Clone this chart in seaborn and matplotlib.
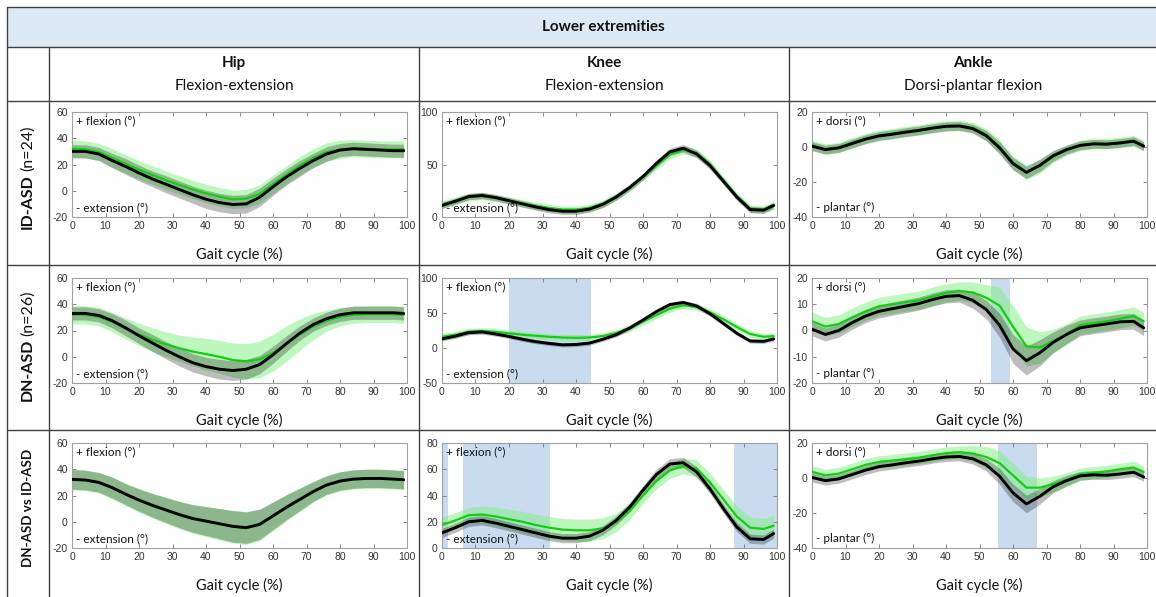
import numpy as np
import matplotlib
matplotlib.use("Agg")
import matplotlib.pyplot as plt
import seaborn as sns

# gait cycle sample points (%)
GAIT = [0, 4, 8, 12, 16, 20, 24, 28, 32, 36, 40, 44, 48, 52, 56, 60, 64, 68, 72, 76, 80, 84, 88, 92, 96, 99]

# ---- row 1: ID-ASD ----
HIP1_BLACK = [30, 30, 28, 23, 18.5, 13.5, 9, 5, 1, -3, -6.5, -9, -10.5, -10, -5, 3, 10.5, 17, 23, 28, 31, 32, 31.5, 31, 30.5, 30.5]
HIP1_BLACK_SD = [5, 5, 5, 5.5, 6, 6, 6, 6.5, 6.5, 6.5, 7, 7, 7, 7, 7, 6.5, 6, 6, 5.5, 5.5, 5, 5, 5, 5, 5, 5]
HIP1_GREEN = [32, 31.5, 29.5, 25, 20.5, 16, 12, 8, 4.5, 1, -2, -4.5, -6.5, -6, -2.5, 5, 12, 19, 25, 29.5, 31.5, 32.5, 32, 31.5, 31.5, 31.5]
HIP1_GREEN_SD = [6.5, 6.5, 6.5, 7, 7, 7, 7, 7, 7, 7, 7, 7, 7, 7, 7, 7, 7, 7, 7, 7, 7, 6.5, 6.5, 6.5, 6.5, 6.5]

KNEE1_BLACK = [11, 15, 19.5, 20.5, 18.5, 15.5, 12.5, 9.5, 7, 5.5, 5.5, 7.5, 12, 19, 28, 38.5, 51, 62, 65.5, 60, 49, 34, 19, 7, 6.5, 11]
KNEE1_BLACK_SD = [3, 3, 3, 3, 3, 3, 3, 3, 3, 3, 3, 3, 3, 3, 3, 3, 3.5, 3.5, 3.5, 3.5, 3.5, 3, 3, 3, 3, 3]
KNEE1_GREEN = [12, 15.5, 19, 20, 18, 15.5, 13, 10.5, 8.5, 7, 7, 8.5, 12.5, 19.5, 28, 38, 49, 59.5, 64, 61, 50, 35, 20, 8, 7, 11]
KNEE1_GREEN_SD = [3.5, 3.5, 3.5, 3.5, 3.5, 3.5, 3.5, 3.5, 3.5, 3.5, 3.5, 3.5, 3.5, 3.5, 3.5, 3.5, 4, 4, 4, 4, 4, 3.5, 3.5, 3.5, 3.5, 3.5]

ANK1_BLACK = [0.5, -1.5, -0.5, 2, 4.5, 6.3, 7.3, 8.5, 9.5, 10.8, 11.8, 12, 10.5, 6.5, -0.5, -9.5, -14.5, -10.5, -5, -1.5, 0.9, 1.8, 1.6, 2.3, 3.3, 0.5]
ANK1_BLACK_SD = [2.5, 2.5, 2.5, 2.5, 2.5, 2.5, 2.5, 2.5, 2.5, 2.5, 2.5, 2.5, 2.5, 3, 3.5, 3.5, 3.5, 3.5, 3, 2.5, 2.5, 2.5, 2.5, 2.5, 2.5, 2.5]
ANK1_GREEN = [0.8, -1.2, -0.3, 2.3, 4.8, 6.6, 7.6, 8.8, 9.8, 11, 12, 12.3, 11, 7, 0, -9, -14.5, -11, -5.5, -1.8, 1, 2, 1.9, 2.6, 3.6, 0.8]
ANK1_GREEN_SD = [3, 3, 3, 3, 3, 3, 3, 3, 3, 3, 3, 3, 3, 3.5, 4, 4, 4, 4, 3.5, 3, 3, 3, 3, 3, 3, 3]

# ---- row 2: DN-ASD ----
HIP2_BLACK = [33, 33, 31.5, 27.5, 22, 16, 10.5, 5, 0, -4.5, -7.5, -9.5, -10.5, -9.5, -6, 1.5, 10, 18, 24.5, 29, 32, 33.5, 33.5, 33.5, 33.5, 33]
HIP2_BLACK_SD = [5, 5, 5, 5.5, 6, 6, 6.5, 6.5, 7, 7, 7, 7.5, 7.5, 7.5, 7, 6.5, 6, 5.5, 5, 5, 5, 5, 5, 5, 5, 5]
HIP2_GREEN = [32, 32, 30.5, 26.5, 21.5, 17, 13, 9.5, 6.5, 4, 2, 0, -2.5, -3.5, -2, 3, 10, 17, 23, 27.5, 30.5, 32, 32.5, 32.5, 32.5, 32]
HIP2_GREEN_SD = [7, 7, 7, 7.5, 8, 8.5, 9, 9.5, 10, 11, 12, 12.5, 13, 13.5, 14, 14, 13.5, 12, 10, 8, 7, 6.5, 6.5, 6.5, 6.5, 6.5]

KNEE2_BLACK = [13, 17, 22, 23, 20, 16.5, 12.5, 9, 6.5, 4.5, 5, 7, 12.5, 19, 28.5, 40, 52, 62, 65, 60, 49, 35, 21, 10, 9.5, 13]
KNEE2_BLACK_SD = [3, 3, 3, 3, 3, 3, 3, 3, 3, 3, 3, 3, 3, 3, 3, 3, 3.5, 3.5, 3.5, 3.5, 3.5, 3, 3, 3, 3, 3]
KNEE2_GREEN = [16, 19, 23.5, 24.5, 23, 21, 19, 17.5, 16, 15, 14.5, 15, 17, 21.5, 28.5, 37.5, 47, 56, 61, 59, 51, 41, 30, 20, 16, 17]
KNEE2_GREEN_SD = [4.5, 4.5, 4.5, 4.5, 4.5, 4.5, 4.5, 4.5, 4.5, 4.5, 4.5, 4.5, 4.5, 4.5, 5, 5, 5, 5, 5, 5, 5, 5, 5, 5, 4.5, 4.5]

ANK2_BLACK = [0.5, -1.5, 0, 3, 5.5, 7.3, 8.3, 9.3, 10.3, 11.8, 13, 13.3, 11.5, 8, 2, -7, -11.5, -8.5, -4.5, -1.5, 1, 1.8, 2.5, 3.3, 3.5, 1]
ANK2_BLACK_SD = [2.5, 2.5, 2.5, 2.5, 2.5, 2.5, 2.5, 2.5, 2.5, 2.5, 2.5, 2.5, 3, 3.5, 4.5, 5.5, 5.5, 5, 4, 3.5, 3, 3, 3, 3, 3, 3]
ANK2_GREEN = [3.5, 1.5, 2.5, 5, 7.3, 9.2, 10, 10.8, 11.5, 13, 14.3, 15, 14.5, 12.5, 9.5, 1.5, -6, -6.5, -4, -1.5, 2, 2.8, 3.5, 4.5, 5.5, 3.5]
ANK2_GREEN_SD = [3.5, 3.5, 3.5, 3.5, 3.5, 3.5, 3.5, 3.5, 3.5, 3.5, 3.5, 3.5, 4, 5, 7, 8, 7.5, 6, 4.5, 4, 3.5, 3.5, 3.5, 3.5, 3.5, 3.5]

# ---- row 3: DN-ASD vs ID-ASD ----
HIP3_BLACK = [32.3, 31.8, 30, 26, 21, 16.5, 12.5, 9, 5.5, 2.5, 0.5, -1.5, -3.5, -4.5, -2, 4.5, 11, 17, 23, 28, 31, 32.5, 33, 33, 32.5, 32]
HIP3_BLACK_SD = [7.5, 7.5, 7.5, 8, 8, 8.5, 9, 9.5, 10, 10.5, 11, 11.5, 12, 12, 11.5, 10.5, 9.5, 8.5, 7.5, 7, 7, 7, 7, 7, 7, 7]
HIP3_GREEN = [32, 31.5, 29.8, 25.8, 20.8, 16.3, 12.3, 8.7, 5.2, 2.2, 0.2, -1.8, -3.8, -4.8, -2.3, 4.2, 10.8, 16.8, 22.8, 27.8, 30.8, 32.3, 32.8, 32.8, 32.3, 31.8]
HIP3_GREEN_SD = [7.8, 7.8, 7.8, 8.3, 8.5, 9, 9.5, 10, 10.5, 11, 11.5, 12, 12.5, 12.5, 12, 11, 10, 9, 8, 7.5, 7.3, 7.3, 7.3, 7.3, 7.3, 7.3]

KNEE3_BLACK = [11.5, 15.5, 20, 21, 19, 16.5, 14, 11.5, 9, 7.5, 7.5, 9, 13.5, 21, 31, 44, 56, 64, 65, 58, 45, 30, 16, 7, 6.5, 11]
KNEE3_BLACK_SD = [3.5, 3.5, 3.5, 3.5, 3.5, 3.5, 3.5, 3.5, 3.5, 3.5, 3.5, 3.5, 3.5, 3.5, 3.5, 3.5, 4, 4, 4, 4, 3.5, 3.5, 3.5, 3.5, 3.5, 3.5]
KNEE3_GREEN = [17.5, 21, 25, 25.5, 24, 22, 20, 17.5, 15.5, 14, 13.5, 13.5, 15, 19.5, 28, 40, 51, 59, 62.5, 60.5, 50, 37, 24, 15.5, 14.5, 17]
KNEE3_GREEN_SD = [6, 6, 6, 6.5, 7, 7.5, 8, 8, 8.5, 8.5, 8.5, 8.5, 8, 7, 6.5, 6, 6, 6, 6, 6.5, 7, 7.5, 8, 8, 8, 8]

ANK3_BLACK = [0.3, -1.5, -0.5, 2, 4.5, 6.5, 7.5, 8.7, 9.7, 11, 12, 12.3, 11, 7.5, 1, -8.5, -14.8, -10.5, -5, -1.5, 1.2, 1.8, 1.6, 2.3, 3.3, 0.6]
ANK3_BLACK_SD = [2.5, 2.5, 2.5, 2.5, 2.5, 2.5, 2.5, 2.5, 2.5, 2.5, 2.5, 2.5, 3, 3.5, 4.5, 5, 5, 4.5, 3.5, 3, 2.5, 2.5, 2.5, 2.5, 2.5, 2.5]
ANK3_GREEN = [3.5, 1.5, 2.5, 5, 7.5, 9.2, 10, 10.8, 11.7, 13, 14.2, 14.8, 14, 12, 8.5, 1.5, -5.5, -5.5, -3.5, -1, 2.2, 3, 3.8, 5, 6, 3.5]
ANK3_GREEN_SD = [3.5, 3.5, 3.5, 3.5, 3.5, 3.5, 3.5, 3.5, 3.5, 3.5, 3.5, 3.5, 4.5, 6, 7, 7, 6.5, 5.5, 4.5, 4, 3.5, 3.5, 3.5, 3.5, 3.5, 3.5]

# significant regions (% gait cycle)
KNEE2_SPANS = [(20, 44.5)]
KNEE3_SPANS = [(0, 1.7), (6.3, 32.2), (87.1, 100)]
ANK2_SPANS = [(53.3, 59.2)]
ANK3_SPANS = [(55.4, 67.2)]

XTICKS = [0, 10, 20, 30, 40, 50, 60, 70, 80, 90, 100]
HIP_YTICKS = [-20, 0, 20, 40, 60]
KNEE1_YTICKS = [0, 50, 100]
KNEE2_YTICKS = [-50, 0, 50, 100]
KNEE3_YTICKS = [0, 20, 40, 60, 80]
ANK1_YTICKS = [-40, -20, 0, 20]
ANK2_YTICKS = [-20, -10, 0, 10, 20]

COL_TITLES = ["Hip", "Knee", "Ankle"]
COL_SUBTITLES = ["Flexion-extension", "Flexion-extension", "Dorsi-plantar flexion"]
ROW_BOLD = ["ID-ASD", "DN-ASD", "DN-ASD vs ID-ASD"]
ROW_NORMAL = ["(n=24)", "(n=26)", ""]

GREEN = "#14cc14"
GREEN_BAND = "#7ff07f"
SHADE = "#c8dbef"
LINE_COL = "#404040"

sns.set_theme(style="white")
plt.rcParams["font.family"] = ["Lato", "DejaVu Sans"]

W, H = 1156, 597
fig = plt.figure(figsize=(W / 100, H / 100), dpi=100)

# table frame drawn in pixel coordinates
bg = fig.add_axes([0, 0, 1, 1])
bg.set_xlim(0, W)
bg.set_ylim(H, 0)
bg.axis("off")
bg.add_patch(plt.Rectangle((7, 7), W, 40, facecolor="#dde9f5", edgecolor="none"))
for yy in [7, 47, 101, 265, 430]:
    bg.plot([7, W], [yy, yy], color=LINE_COL, lw=1.0)
bg.plot([7, 7], [7, H], color=LINE_COL, lw=1.0)
for xx in [49, 419, 789]:
    bg.plot([xx, xx], [47, H], color=LINE_COL, lw=1.0)

bg.text(603, 27, "Lower extremities", ha="center", va="center", fontsize=11, fontweight="bold", color="#111111")
col_centers = [234, 604, 973]
for cx, t, s in zip(col_centers, COL_TITLES, COL_SUBTITLES):
    bg.text(cx, 63, t, ha="center", va="center", fontsize=11, fontweight="bold", color="#111111")
    bg.text(cx, 86, s, ha="center", va="center", fontsize=11, color="#111111")

label_bottoms = [229, 401, 567]
label_sizes = [11.5, 11.5, 9.6]
for yb, fs, b, n in zip(label_bottoms, label_sizes, ROW_BOLD, ROW_NORMAL):
    tb = bg.text(28, yb, b, rotation=90, ha="center", va="bottom", fontsize=fs, fontweight="bold", color="#111111")
    if n:
        bg.annotate(n, xy=(0.5, 1.0), xycoords=tb, xytext=(0, 2), textcoords="offset points",
                    rotation=90, ha="center", va="bottom", fontsize=fs, color="#111111")


def draw_panel(ax, black, black_sd, green, green_sd, ylim, yticks, labels, spans):
    x = np.array(GAIT, dtype=float)
    k, ks = np.array(black), np.array(black_sd)
    g, gs = np.array(green), np.array(green_sd)
    for a, b in spans:
        ax.axvspan(a, b, color=SHADE, lw=0, zorder=0)
    ax.fill_between(x, g - gs, g + gs, color=GREEN_BAND, alpha=0.5, lw=0, zorder=1)
    ax.fill_between(x, k - ks, k + ks, color="black", alpha=0.26, lw=0, zorder=2)
    sns.lineplot(x=x, y=g, color=GREEN, lw=1.6, ax=ax, zorder=3)
    sns.lineplot(x=x, y=k, color="black", lw=2.1, ax=ax, zorder=4)
    ax.set_xlim(0, 100)
    ax.set_ylim(*ylim)
    ax.set_xticks(XTICKS)
    ax.set_xticklabels([str(t) for t in XTICKS], fontfamily="Liberation Sans", fontsize=7.5, color="#333333")
    ax.set_yticks(yticks)
    ax.set_yticklabels([str(t) for t in yticks], fontfamily="Liberation Sans", fontsize=7.5, color="#333333")
    ax.tick_params(direction="in", length=3, width=0.6, color="#777777", pad=3,
                   bottom=True, top=True, left=True, right=True)
    for sp in ax.spines.values():
        sp.set_color("#a0a0a0")
        sp.set_linewidth(0.8)
    ax.set_xlabel("Gait cycle (%)", fontsize=10.5, labelpad=11, color="#111111")
    ax.set_ylabel("")
    ax.text(0.012, 0.965, labels[0], transform=ax.transAxes, ha="left", va="top", fontsize=8.5, color="#111111", zorder=5)
    ax.text(0.012, 0.035, labels[1], transform=ax.transAxes, ha="left", va="bottom", fontsize=8.5, color="#111111", zorder=5)


FLEX = ("+ flexion (°)", "- extension (°)")
DORSI = ("+ dorsi (°)", "- plantar (°)")

panels = [
    [(HIP1_BLACK, HIP1_BLACK_SD, HIP1_GREEN, HIP1_GREEN_SD, (-20, 60), HIP_YTICKS, FLEX, []),
     (KNEE1_BLACK, KNEE1_BLACK_SD, KNEE1_GREEN, KNEE1_GREEN_SD, (0, 100), KNEE1_YTICKS, FLEX, []),
     (ANK1_BLACK, ANK1_BLACK_SD, ANK1_GREEN, ANK1_GREEN_SD, (-40, 20), ANK1_YTICKS, DORSI, [])],
    [(HIP2_BLACK, HIP2_BLACK_SD, HIP2_GREEN, HIP2_GREEN_SD, (-20, 60), HIP_YTICKS, FLEX, []),
     (KNEE2_BLACK, KNEE2_BLACK_SD, KNEE2_GREEN, KNEE2_GREEN_SD, (-50, 100), KNEE2_YTICKS, FLEX, KNEE2_SPANS),
     (ANK2_BLACK, ANK2_BLACK_SD, ANK2_GREEN, ANK2_GREEN_SD, (-20, 20), ANK2_YTICKS, DORSI, ANK2_SPANS)],
    [(HIP3_BLACK, HIP3_BLACK_SD, HIP3_GREEN, HIP3_GREEN_SD, (-20, 60), HIP_YTICKS, FLEX, []),
     (KNEE3_BLACK, KNEE3_BLACK_SD, KNEE3_GREEN, KNEE3_GREEN_SD, (0, 80), KNEE3_YTICKS, FLEX, KNEE3_SPANS),
     (ANK3_BLACK, ANK3_BLACK_SD, ANK3_GREEN, ANK3_GREEN_SD, (-40, 20), ANK1_YTICKS, DORSI, ANK3_SPANS)],
]

col_left = [72, 442, 812]
row_top = [112, 278, 443]
pw, ph = 335, 105
for r, row in enumerate(panels):
    for c, args in enumerate(row):
        l, t = col_left[c], row_top[r]
        ax = fig.add_axes([l / W, 1 - (t + ph) / H, pw / W, ph / H])
        draw_panel(ax, *args)

fig.savefig("out.png", dpi=100)
